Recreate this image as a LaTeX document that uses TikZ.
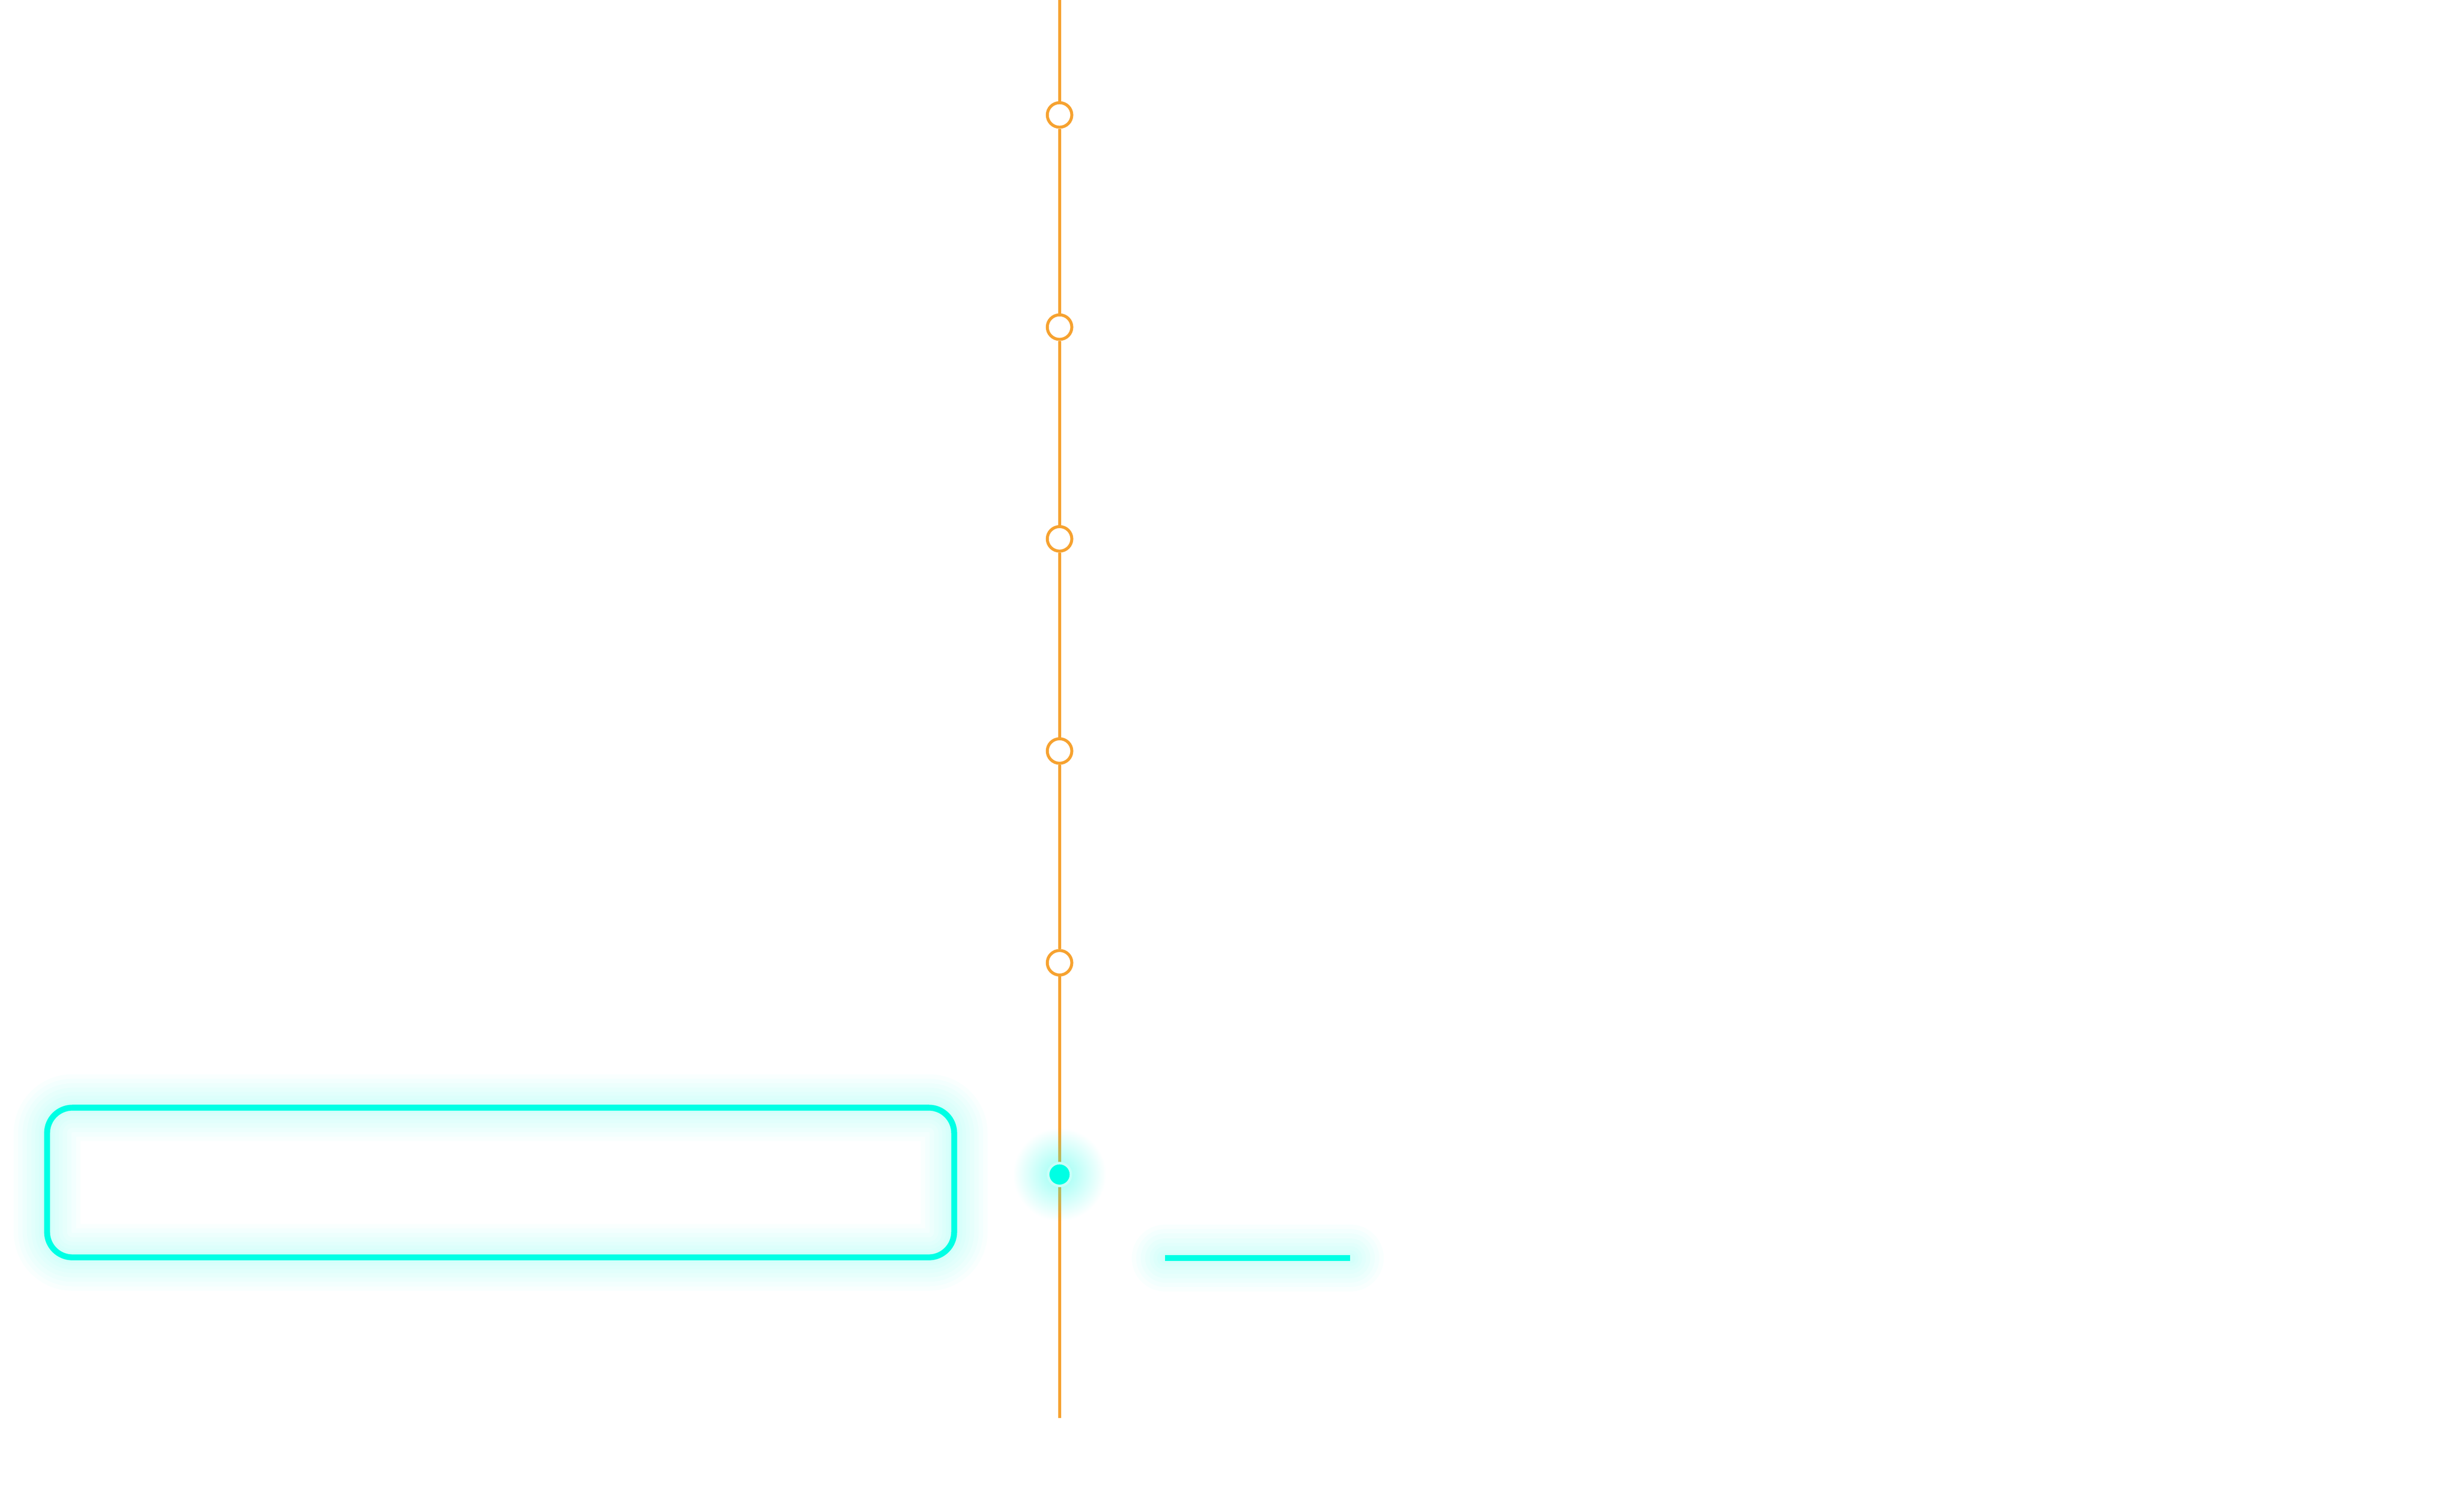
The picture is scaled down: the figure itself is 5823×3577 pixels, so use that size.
\documentclass[tikz,border=0pt]{standalone}
\usepackage{tikz}
\usetikzlibrary{positioning,fadings,backgrounds}
\definecolor{railorange}{RGB}{246,162,48}
\definecolor{neoncyan}{RGB}{0,255,228}
\tikzfading[name=glowfade, inner color=transparent!0, outer color=transparent!100]

\begin{document}
\begin{tikzpicture}[x=0.01cm, y=-0.01cm,
  rail/.style={draw=railorange, line width=2pt},
  stop/.style={circle, draw=railorange, fill=white, line width=2pt, inner sep=0pt, minimum size=5.8mm},
  now/.style={circle, draw=neoncyan!22, fill=neoncyan, line width=1.7pt, inner sep=0pt, minimum size=5.4mm},
  halo/.style={preaction={draw=neoncyan, line cap=round, opacity=0.022, line width=#1}},
  glow/.style={halo=45pt, halo=39pt, halo=33pt, halo=27pt, halo=21pt, halo=16pt, halo=11pt, halo=7pt},
  panel/.style={glow, draw=neoncyan, line width=4pt, rounded corners=6mm, inner sep=0pt,
                minimum width=21.45cm, minimum height=3.54cm},
  bar/.style={glow, draw=neoncyan, line width=4pt}]
\useasboundingbox (0,0) rectangle (5823,3577);

% timeline stops
\node[stop] (s1) at (2507,272) {};
\node[stop] (s2) at (2507,774) {};
\node[stop] (s3) at (2507,1275) {};
\node[stop] (s4) at (2507,1777) {};
\node[stop] (s5) at (2507,2278) {};
\fill[neoncyan, fill opacity=0.4, path fading=glowfade] (2507,2779) circle (1.1cm);
\node[now] (s6) at (2507,2779) {};
\coordinate (top) at (2507,0);
\coordinate (bottom) at (2507,3355);
\begin{scope}[on background layer]
\draw[rail] (top) -- (s1) -- (s2) -- (s3) -- (s4) -- (s5) -- (s6) -- (bottom);
\end{scope}

% card and marker
\node[panel] (card) at (1184.5,2798) {};
\coordinate (mark1) at (2757,2977);
\coordinate (mark2) at (3195,2977);
\draw[bar] (mark1) -- (mark2);
\end{tikzpicture}
\end{document}
